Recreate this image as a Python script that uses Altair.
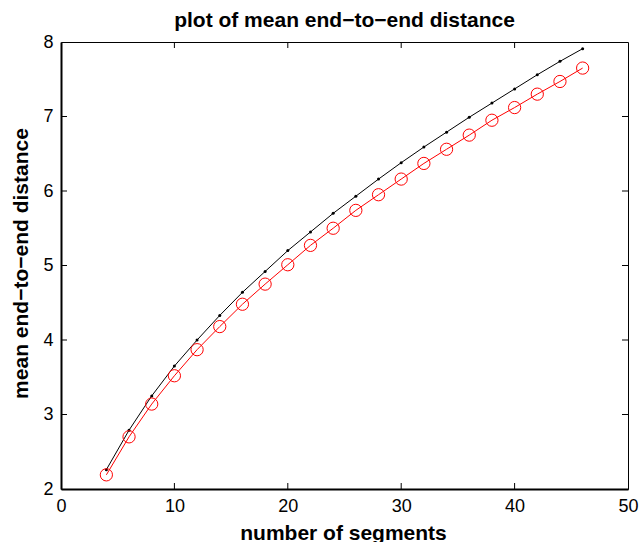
import altair as alt
import pandas as pd

# ---- data ----
segments = [4, 6, 8, 10, 12, 14, 16, 18, 20, 22, 24, 26, 28, 30, 32, 34, 36, 38, 40, 42, 44, 46]
mean_black = [2.26, 2.79, 3.25, 3.65, 4.00, 4.33, 4.64, 4.92, 5.20, 5.45, 5.70,
              5.93, 6.16, 6.38, 6.59, 6.79, 6.99, 7.18, 7.37, 7.56, 7.74, 7.91]
mean_red = [2.19, 2.70, 3.14, 3.52, 3.87, 4.18, 4.48, 4.75, 5.01, 5.27, 5.50,
            5.74, 5.95, 6.16, 6.37, 6.56, 6.75, 6.95, 7.12, 7.30, 7.47, 7.65]
x_ticks = [0, 10, 20, 30, 40, 50]
y_ticks = [2, 3, 4, 5, 6, 7, 8]
x_inner = [10, 20, 30, 40]
y_inner = [3, 4, 5, 6, 7]

FONT = "Liberation Sans"
W, H = 567, 447
TL = 6

df_black = pd.DataFrame({"n": segments, "d": mean_black})
df_red = pd.DataFrame({"n": segments, "d": mean_red})
df_xt = pd.DataFrame({"n": x_inner})
df_yt = pd.DataFrame({"d": y_inner})

xs = alt.Scale(domain=[0, 50], nice=False, zero=False)
ys = alt.Scale(domain=[2, 8], nice=False, zero=False)

x_axis = alt.Axis(
    values=x_ticks, title="number of segments", ticks=False, tickSize=0, grid=False,
    labelFlush=False, labelPadding=8, labelFontSize=18, labelFont=FONT, labelColor="black",
    domainColor="black", domainWidth=2,
    titleFont=FONT, titleFontSize=21, titleFontWeight="bold", titleColor="black",
    titleBaseline="alphabetic", titleX=282, titleY=50, titleAlign="center",
)
y_axis = alt.Axis(
    values=y_ticks, title="mean end\u2212to\u2212end distance", ticks=False, tickSize=0, grid=False,
    labelFlush=False, labelPadding=8, labelFontSize=18, labelFont=FONT, labelColor="black",
    domainColor="black", domainWidth=2,
    titleFont=FONT, titleFontSize=21, titleFontWeight="bold", titleColor="black",
    titleAngle=270, titleBaseline="alphabetic", titleX=-34, titleY=221, titleAlign="center",
)

X = alt.X("n:Q", scale=xs, axis=x_axis)
Y = alt.Y("d:Q", scale=ys, axis=y_axis)

black_line = alt.Chart(df_black).mark_line(color="black", strokeWidth=1).encode(x=X, y=Y)
black_pts = alt.Chart(df_black).mark_point(
    filled=True, color="black", size=9, opacity=1, shape="circle"
).encode(x=X, y=Y)
red_line = alt.Chart(df_red).mark_line(color="red", strokeWidth=1).encode(x=X, y=Y)
red_pts = alt.Chart(df_red).mark_point(
    filled=False, color="red", size=150, strokeWidth=1, opacity=1, shape="circle"
).encode(x=X, y=Y)

tick_bottom = alt.Chart(df_xt).mark_rule(color="black", strokeWidth=1).encode(
    x=X, y=alt.value(H), y2=alt.value(H - TL))
tick_top = alt.Chart(df_xt).mark_rule(color="black", strokeWidth=1).encode(
    x=X, y=alt.value(0), y2=alt.value(TL))
tick_left = alt.Chart(df_yt).mark_rule(color="black", strokeWidth=1).encode(
    y=Y, x=alt.value(0), x2=alt.value(TL))
tick_right = alt.Chart(df_yt).mark_rule(color="black", strokeWidth=1).encode(
    y=Y, x=alt.value(W), x2=alt.value(W - TL))

chart = alt.layer(
    tick_bottom, tick_top, tick_left, tick_right,
    black_line, black_pts, red_line, red_pts,
).properties(
    width=W, height=H,
    autosize="none",
    padding={"left": 61, "top": 42, "right": 12, "bottom": 53},
    background="white",
    title=alt.TitleParams(
        "plot of mean end\u2212to\u2212end distance", font=FONT, fontSize=21,
        fontWeight="bold", color="black", anchor="middle", baseline="alphabetic",
        offset=14, dy=29,
    ),
).configure_view(stroke="black", strokeWidth=1)

chart.save("out.html", embed_options={"renderer": "svg", "actions": False})
